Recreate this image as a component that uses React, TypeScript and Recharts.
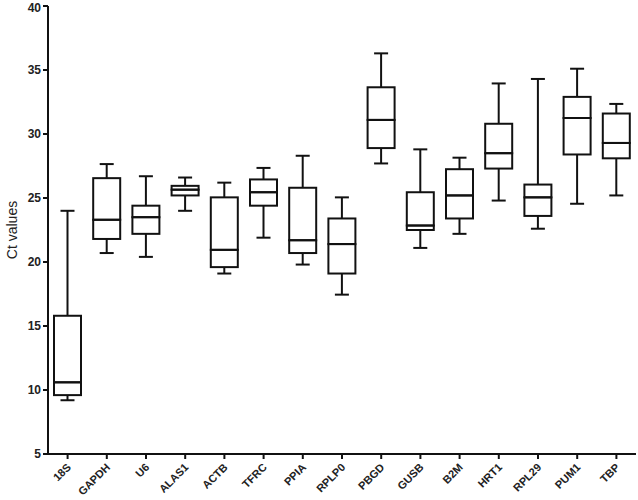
import { ComposedChart, Bar, XAxis, YAxis, Label } from 'recharts'

// reference genes on the x axis
const genes = ['18S', 'GAPDH', 'U6', 'ALAS1', 'ACTB', 'TFRC', 'PPIA', 'RPLP0', 'PBGD', 'GUSB', 'B2M', 'HRT1', 'RPL29', 'PUM1', 'TBP']

// box plot statistics (Ct values)
const minValues = [9.2, 20.7, 20.4, 24.0, 19.1, 21.9, 19.8, 17.45, 27.7, 21.1, 22.2, 24.8, 22.6, 24.55, 25.2]
const q1Values = [9.6, 21.8, 22.2, 25.2, 19.6, 24.4, 20.7, 19.1, 28.9, 22.5, 23.4, 27.3, 23.6, 28.4, 28.1]
const medianValues = [10.6, 23.3, 23.5, 25.65, 20.95, 25.45, 21.7, 21.4, 31.1, 22.85, 25.2, 28.5, 25.05, 31.25, 29.3]
const q3Values = [15.8, 26.55, 24.4, 25.95, 25.05, 26.45, 25.8, 23.4, 33.65, 25.45, 27.25, 30.8, 26.05, 32.9, 31.6]
const maxValues = [24.0, 27.65, 26.7, 26.6, 26.2, 27.35, 28.3, 25.05, 36.3, 28.8, 28.15, 33.95, 34.3, 35.1, 32.35]

const yTicks = [5, 10, 15, 20, 25, 30, 35, 40]

const data = genes.map((gene, i) => ({
  gene,
  base: minValues[i],
  lowWhisker: q1Values[i] - minValues[i],
  lowBox: medianValues[i] - q1Values[i],
  highBox: q3Values[i] - medianValues[i],
  highWhisker: maxValues[i] - q3Values[i],
}))

const FONT = '"Liberation Sans", Arial, sans-serif'
const STROKE = '#111'

const BOX_WIDTH = 27
const CAP_WIDTH = 14

const Empty = () => <g />

const LowerWhisker = (props: any) => {
  const { x, y, width, height } = props
  const cx = x + width / 2
  const bottom = y + height
  return (
    <g>
      <line x1={cx} x2={cx} y1={y} y2={bottom} stroke={STROKE} strokeWidth={2} />
      <line x1={cx - CAP_WIDTH / 2} x2={cx + CAP_WIDTH / 2} y1={bottom} y2={bottom} stroke={STROKE} strokeWidth={2} />
    </g>
  )
}

const UpperWhisker = (props: any) => {
  const { x, y, width, height } = props
  const cx = x + width / 2
  return (
    <g>
      <line x1={cx} x2={cx} y1={y} y2={y + height} stroke={STROKE} strokeWidth={2} />
      <line x1={cx - CAP_WIDTH / 2} x2={cx + CAP_WIDTH / 2} y1={y} y2={y} stroke={STROKE} strokeWidth={2} />
    </g>
  )
}

const BoxHalf = (props: any) => {
  const { x, y, width, height } = props
  const cx = x + width / 2
  return (
    <rect
      x={cx - BOX_WIDTH / 2}
      y={y}
      width={BOX_WIDTH}
      height={Math.max(height, 0)}
      fill="none"
      stroke={STROKE}
      strokeWidth={2}
    />
  )
}

const GeneTick = (props: any) => {
  const { x, y, payload } = props
  return (
    <text
      x={x + 4}
      y={y + 7}
      transform={`rotate(-45, ${x + 4}, ${y + 7})`}
      textAnchor="end"
      fontFamily={FONT}
      fontSize={11}
      fontWeight="bold"
      fill="#222"
    >
      {payload.value}
    </text>
  )
}

export default function App() {
  return (
    <div style={{ position: 'absolute', left: 0, top: 0, width: 638, height: 500, background: '#fff' }}>
      <ComposedChart
        width={638}
        height={500}
        data={data}
        margin={{ top: 6, right: 2, left: 10, bottom: 0 }}
        barCategoryGap={0}
      >
        <XAxis
          dataKey="gene"
          interval={0}
          height={46}
          tick={<GeneTick />}
          tickSize={5}
          axisLine={{ stroke: STROKE, strokeWidth: 2 }}
          tickLine={{ stroke: STROKE, strokeWidth: 2 }}
        />
        <YAxis
          type="number"
          domain={[5, 40]}
          ticks={yTicks}
          allowDataOverflow
          width={38}
          tickSize={5}
          axisLine={{ stroke: STROKE, strokeWidth: 2 }}
          tickLine={{ stroke: STROKE, strokeWidth: 2 }}
          tick={{ fontFamily: FONT, fontSize: 12, fontWeight: 'bold', fill: '#222' }}
        >
          <Label
            value="Ct values"
            angle={-90}
            position="insideLeft"
            offset={2}
            style={{ fontFamily: FONT, fontSize: 14, fill: '#222', textAnchor: 'middle' }}
          />
        </YAxis>
        <Bar dataKey="base" stackId="box" shape={<Empty />} isAnimationActive={false} />
        <Bar dataKey="lowWhisker" stackId="box" shape={<LowerWhisker />} isAnimationActive={false} />
        <Bar dataKey="lowBox" stackId="box" shape={<BoxHalf />} isAnimationActive={false} />
        <Bar dataKey="highBox" stackId="box" shape={<BoxHalf />} isAnimationActive={false} />
        <Bar dataKey="highWhisker" stackId="box" shape={<UpperWhisker />} isAnimationActive={false} />
      </ComposedChart>
    </div>
  )
}
